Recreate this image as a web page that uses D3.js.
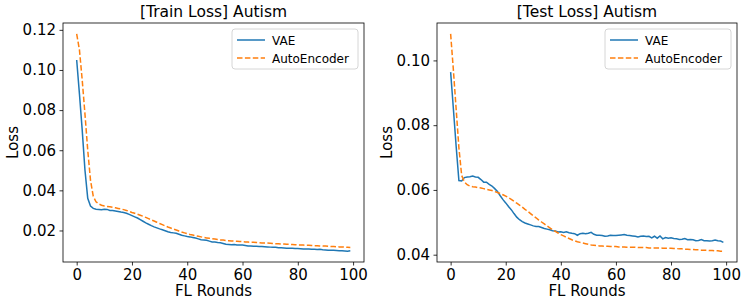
<!DOCTYPE html>
<html>
<head>
<meta charset="utf-8">
<script src="https://cdn.jsdelivr.net/npm/d3@7"></script>
<style>
  body { margin: 0; background: #fff; }
  svg { display: block; font-family: "DejaVu Sans", sans-serif; }
</style>
</head>
<body>
<svg id="chart" width="747" height="307"></svg>
<script>
// FL rounds 0..99
var rounds = d3.range(0, 100);
var xTicks = [0, 20, 40, 60, 80, 100];
var seriesNames = ["VAE", "AutoEncoder"];

var trainVAE = [0.1050, 0.0880, 0.0700, 0.0500, 0.0360, 0.0322, 0.0310, 0.0306, 0.0305, 0.0303,
  0.0306, 0.0305, 0.0300, 0.0299, 0.0297, 0.0295, 0.0292, 0.0290, 0.0286, 0.0280,
  0.0274, 0.0268, 0.0262, 0.0254, 0.0246, 0.0238, 0.0231, 0.0224, 0.0218, 0.0213,
  0.0208, 0.0204, 0.0199, 0.0194, 0.0190, 0.0188, 0.0186, 0.0181, 0.0176, 0.0173,
  0.0170, 0.0168, 0.0165, 0.0162, 0.0158, 0.0154, 0.0153, 0.0151, 0.0147, 0.0143,
  0.0142, 0.0140, 0.0139, 0.0135, 0.0131, 0.0130, 0.0129, 0.0130, 0.0128, 0.0127,
  0.0127, 0.0125, 0.0123, 0.0123, 0.0121, 0.0121, 0.0120, 0.0120, 0.0119, 0.0118,
  0.0117, 0.0116, 0.0116, 0.0114, 0.0114, 0.0113, 0.0112, 0.0111, 0.0111, 0.0110,
  0.0110, 0.0109, 0.0108, 0.0108, 0.0108, 0.0107, 0.0106, 0.0105, 0.0106, 0.0104,
  0.0103, 0.0102, 0.0101, 0.0101, 0.0100, 0.0099, 0.0099, 0.0098, 0.0097, 0.0099];

var trainAE = [0.1180, 0.1100, 0.0950, 0.0780, 0.0600, 0.0450, 0.0370, 0.0343, 0.0332, 0.0326,
  0.0322, 0.0320, 0.0318, 0.0316, 0.0313, 0.0310, 0.0307, 0.0304, 0.0300, 0.0295,
  0.0290, 0.0286, 0.0281, 0.0276, 0.0271, 0.0265, 0.0259, 0.0253, 0.0247, 0.0241,
  0.0235, 0.0229, 0.0223, 0.0217, 0.0212, 0.0207, 0.0202, 0.0197, 0.0192, 0.0188,
  0.0184, 0.0180, 0.0177, 0.0174, 0.0171, 0.0168, 0.0165, 0.0163, 0.0161, 0.0159,
  0.0157, 0.0155, 0.0153, 0.0152, 0.0150, 0.0149, 0.0148, 0.0147, 0.0146, 0.0145,
  0.0144, 0.0143, 0.0142, 0.0141, 0.0141, 0.0140, 0.0139, 0.0138, 0.0137, 0.0137,
  0.0136, 0.0135, 0.0134, 0.0134, 0.0133, 0.0132, 0.0131, 0.0131, 0.0130, 0.0129,
  0.0128, 0.0128, 0.0127, 0.0126, 0.0126, 0.0125, 0.0124, 0.0124, 0.0123, 0.0122,
  0.0122, 0.0121, 0.0120, 0.0120, 0.0119, 0.0118, 0.0118, 0.0117, 0.0116, 0.0115];

var testVAE = [0.0964, 0.0850, 0.0735, 0.0629, 0.0628, 0.0638, 0.0640, 0.0641, 0.0643, 0.0640,
  0.0639, 0.0632, 0.0624, 0.0624, 0.0617, 0.0612, 0.0604, 0.0595, 0.0582, 0.0570,
  0.0560, 0.0549, 0.0539, 0.0527, 0.0516, 0.0508, 0.0502, 0.0498, 0.0495, 0.0492,
  0.0489, 0.0487, 0.0487, 0.0484, 0.0481, 0.0479, 0.0477, 0.0474, 0.0473, 0.0470,
  0.0471, 0.0469, 0.0471, 0.0468, 0.0466, 0.0465, 0.0460, 0.0465, 0.0466, 0.0465,
  0.0466, 0.0469, 0.0463, 0.0460, 0.0460, 0.0459, 0.0457, 0.0458, 0.0460, 0.0459,
  0.0459, 0.0460, 0.0461, 0.0462, 0.0460, 0.0459, 0.0458, 0.0457, 0.0455, 0.0457,
  0.0458, 0.0456, 0.0457, 0.0452, 0.0457, 0.0451, 0.0458, 0.0449, 0.0453, 0.0451,
  0.0452, 0.0450, 0.0449, 0.0447, 0.0448, 0.0450, 0.0446, 0.0447, 0.0446, 0.0443,
  0.0444, 0.0447, 0.0443, 0.0443, 0.0442, 0.0443, 0.0445, 0.0443, 0.0442, 0.0438];

var testAE = [0.1082, 0.0970, 0.0850, 0.0730, 0.0645, 0.0625, 0.0616, 0.0612, 0.0610, 0.0609,
  0.0607, 0.0606, 0.0604, 0.0602, 0.0600, 0.0598, 0.0595, 0.0592, 0.0589, 0.0585,
  0.0581, 0.0576, 0.0571, 0.0565, 0.0559, 0.0553, 0.0547, 0.0540, 0.0534, 0.0527,
  0.0520, 0.0514, 0.0507, 0.0501, 0.0495, 0.0489, 0.0483, 0.0477, 0.0472, 0.0467,
  0.0462, 0.0458, 0.0454, 0.0450, 0.0446, 0.0443, 0.0440, 0.0438, 0.0436, 0.0434,
  0.0432, 0.0430, 0.0429, 0.0428, 0.0427, 0.0427, 0.0426, 0.0426, 0.0425, 0.0425,
  0.0425, 0.0424, 0.0424, 0.0424, 0.0423, 0.0423, 0.0423, 0.0423, 0.0422, 0.0422,
  0.0422, 0.0422, 0.0421, 0.0421, 0.0421, 0.0421, 0.0421, 0.0420, 0.0420, 0.0420,
  0.0420, 0.0419, 0.0419, 0.0418, 0.0418, 0.0417, 0.0417, 0.0416, 0.0416, 0.0415,
  0.0415, 0.0414, 0.0414, 0.0414, 0.0413, 0.0413, 0.0412, 0.0412, 0.0411, 0.0411];

var trainYTicks = [0.02, 0.04, 0.06, 0.08, 0.10, 0.12];
var testYTicks = [0.04, 0.06, 0.08, 0.10];

var colors = ["#1f77b4", "#ff7f0e"];
var svg = d3.select("#chart");

// matplotlib-style 5% padding around the data
function padded(lo, hi) {
  var m = (hi - lo) * 0.05;
  return [lo - m, hi + m];
}

function drawPanel(box, title, vae, ae, yTicks) {
  var g = svg.append("g");
  var x = d3.scaleLinear().domain(padded(0, 99)).range([box.left, box.right]);
  var all = vae.concat(ae);
  var y = d3.scaleLinear().domain(padded(d3.min(all), d3.max(all))).range([box.bottom, box.top]);

  var line = d3.line()
    .x(function (d, i) { return x(rounds[i]); })
    .y(function (d) { return y(d); });

  var clipId = "clip" + box.left;
  g.append("clipPath").attr("id", clipId).append("rect")
    .attr("x", box.left).attr("y", box.top)
    .attr("width", box.right - box.left).attr("height", box.bottom - box.top);

  g.append("path").datum(vae)
    .attr("clip-path", "url(#" + clipId + ")")
    .attr("d", line).attr("fill", "none")
    .attr("stroke", colors[0]).attr("stroke-width", 1.5);
  g.append("path").datum(ae)
    .attr("clip-path", "url(#" + clipId + ")")
    .attr("d", line).attr("fill", "none")
    .attr("stroke", colors[1]).attr("stroke-width", 1.5)
    .attr("stroke-dasharray", "5.5,2.4");

  // axes
  var xAxis = g.append("g").attr("transform", "translate(0," + box.bottom + ")")
    .call(d3.axisBottom(x).tickValues(xTicks).tickSize(3.5).tickPadding(3.5).tickFormat(d3.format("d")));
  var yAxis = g.append("g").attr("transform", "translate(" + box.left + ",0)")
    .call(d3.axisLeft(y).tickValues(yTicks).tickSize(3.5).tickPadding(3.5).tickFormat(d3.format(".2f")));
  [xAxis, yAxis].forEach(function (a) {
    a.select(".domain").remove();
    a.selectAll("line").attr("stroke", "#000").attr("stroke-width", 0.8);
    a.selectAll("text").attr("fill", "#000").style("font-size", "15px")
      .style("font-family", "'DejaVu Sans', sans-serif");
  });

  g.append("rect")
    .attr("x", box.left).attr("y", box.top)
    .attr("width", box.right - box.left).attr("height", box.bottom - box.top)
    .attr("fill", "none").attr("stroke", "#000").attr("stroke-width", 0.8);

  var cx = (box.left + box.right) / 2;
  g.append("text").attr("x", cx).attr("y", 17)
    .attr("text-anchor", "middle").style("font-size", "15.5px").text(title);
  g.append("text").attr("x", cx).attr("y", 296)
    .attr("text-anchor", "middle").style("font-size", "15px").text("FL Rounds");
  g.append("text")
    .attr("transform", "translate(" + (box.left - 45) + "," + ((box.top + box.bottom) / 2) + ") rotate(-90)")
    .attr("text-anchor", "middle").style("font-size", "15px").text("Loss");

  // legend
  var lg = g.append("g").attr("transform", "translate(" + (box.right - 132) + "," + (box.top + 6) + ")");
  lg.append("rect").attr("x", 0).attr("y", 0).attr("width", 126).attr("height", 40)
    .attr("rx", 3).attr("fill", "#fff").attr("fill-opacity", 0.8)
    .attr("stroke", "#ccc").attr("stroke-width", 0.8);
  seriesNames.forEach(function (name, i) {
    var yy = 11 + i * 18;
    var l = lg.append("line").attr("x1", 5).attr("x2", 33).attr("y1", yy).attr("y2", yy)
      .attr("stroke", colors[i]).attr("stroke-width", 1.5);
    if (i == 1) l.attr("stroke-dasharray", "5.5,2.4");
    lg.append("text").attr("x", 40).attr("y", yy + 4.5)
      .style("font-size", "12px").text(name);
  });
}

drawPanel({left: 63, right: 364, top: 23, bottom: 262}, "[Train Loss] Autism", trainVAE, trainAE, trainYTicks);
drawPanel({left: 437, right: 737, top: 23, bottom: 262}, "[Test Loss] Autism", testVAE, testAE, testYTicks);
</script>
</body>
</html>
